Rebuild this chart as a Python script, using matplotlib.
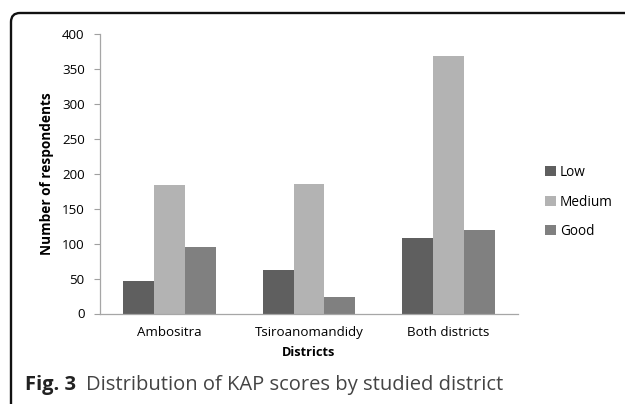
import matplotlib
matplotlib.use("Agg")
import matplotlib.pyplot as plt
import numpy as np
from matplotlib.patches import FancyBboxPatch

categories = ["Ambositra", "Tsiroanomandidy", "Both districts"]
series_names = ["Low", "Medium", "Good"]
low = [46, 62, 108]
medium = [184, 185, 369]
good = [95, 24, 119]
colors = ["#5f5f5f", "#b3b3b3", "#808080"]
yticks = [0, 50, 100, 150, 200, 250, 300, 350, 400]

plt.rcParams['font.family'] = ['Open Sans', 'DejaVu Sans']

W, H = 625, 404
fig = plt.figure(figsize=(W / 100, H / 100), dpi=100)

ax = fig.add_axes([100 / W, 1 - 313.5 / H, 418 / W, (313.5 - 34) / H])
x = np.arange(len(categories))
w = 1 / 4.5
for i, (vals, c, name) in enumerate(zip([low, medium, good], colors, series_names)):
    ax.bar(x + (i - 1) * w, vals, width=w, color=c, label=name)

ax.set_xlim(-0.5, len(categories) - 0.5)
ax.set_ylim(0, 400)
ax.set_yticks(yticks)
ax.set_xticks(x)
ax.set_xticklabels(categories, fontsize=9.6)
ax.tick_params(axis='y', labelsize=9.6, length=4, color="#a0a0a0", pad=7)
ax.tick_params(axis='x', length=0, pad=9)
for s in ["top", "right"]:
    ax.spines[s].set_visible(False)
for s in ["left", "bottom"]:
    ax.spines[s].set_color("#a6a6a6")
    ax.spines[s].set_linewidth(0.9)
ax.set_ylabel("Number of respondents", fontsize=9.8, fontweight="bold", labelpad=6)
ax.set_xlabel("Districts", fontsize=9.2, fontweight="bold", labelpad=5)

leg = ax.legend(loc="center left", bbox_to_anchor=(540 / W, 1 - 202 / H),
                bbox_transform=fig.transFigure, frameon=False, fontsize=9.8,
                handlelength=0.75, handleheight=0.75, handletextpad=0.3,
                labelspacing=1.05, borderaxespad=0)

# rounded frame (pixel coords)
frame = FancyBboxPatch((11, -20), W + 30, (H - 13) + 20,
                       boxstyle="round,pad=0,rounding_size=9",
                       transform=None, fill=False, edgecolor="#111111",
                       linewidth=1.7, clip_on=False)
fig.patches.append(frame)

fig.text(25 / W, 1 - 385 / H, "Fig. 3", fontsize=14.5, va="center", ha="left",
         fontweight="bold", color="#222222")
fig.text(86 / W, 1 - 385 / H, "Distribution of KAP scores by studied district",
         fontsize=14.5, va="center", ha="left", color="#444444")

fig.savefig("out.png", dpi=100)
